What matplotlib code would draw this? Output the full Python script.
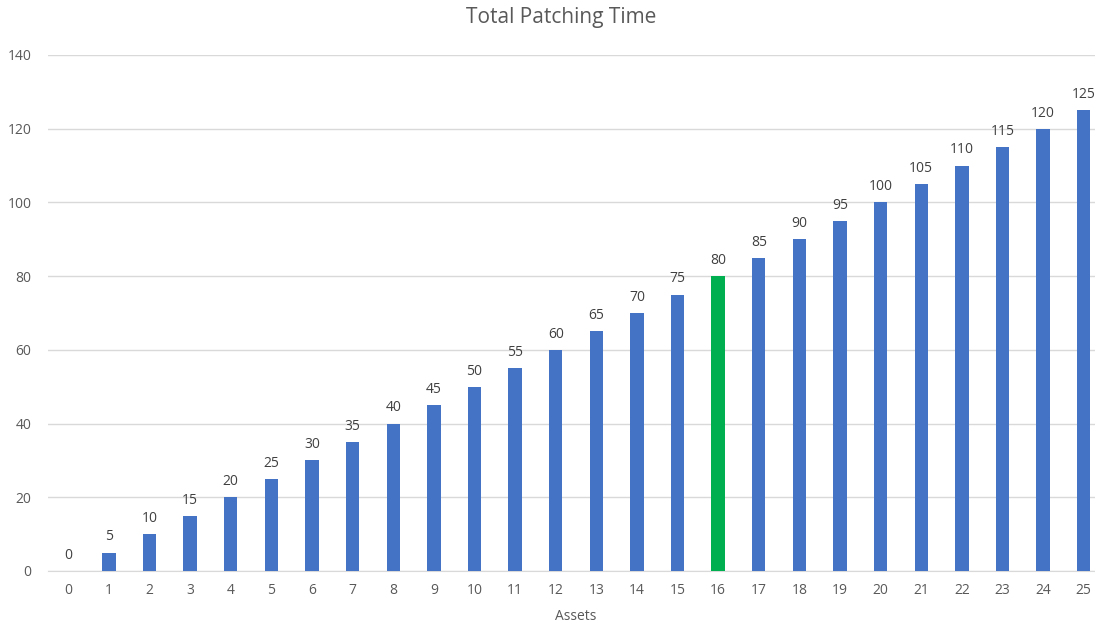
import matplotlib
matplotlib.use("Agg")
import matplotlib.pyplot as plt

categories = list(range(26))
values = [0, 5, 10, 15, 20, 25, 30, 35, 40, 45, 50, 55, 60, 65, 70, 75, 80, 85, 90, 95, 100, 105, 110, 115, 120, 125]
highlight = 16
title = "Total Patching Time"
xlabel = "Assets"

plt.rcParams['font.family'] = ['Open Sans', 'DejaVu Sans']
fig = plt.figure(figsize=(10.95, 6.27), dpi=100)
W, H = 1095, 627
left = 48 / W
right = 1104 / W
bottom = (H - 571) / H
top = (H - 55) / H
ax = fig.add_axes([left, bottom, right - left, top - bottom])

colors = ['#00B050' if c == highlight else '#4472C4' for c in categories]
ax.bar(categories, values, width=0.33, color=colors, zorder=3)
for c, v in zip(categories, values):
    ax.text(c, v + 2.2, str(v), ha='center', va='bottom', fontsize=10, color='#404040', zorder=4)

ax.set_xlim(-0.5, 25.5)
ax.set_ylim(0, 140)
ax.set_yticks(range(0, 141, 20))
ax.set_xticks(categories)
ax.set_xticklabels([str(c) for c in categories])
ax.grid(axis='y', color='#D9D9D9', linewidth=1, zorder=0)
for s in ['top', 'right', 'left']:
    ax.spines[s].set_visible(False)
ax.spines['bottom'].set_color('#D9D9D9')
ax.tick_params(axis='both', length=0, labelsize=10, colors='#595959')
ax.tick_params(axis='x', pad=9)
ax.tick_params(axis='y', pad=12)
fig.text(561 / W, 1 - 18 / H, title, ha='center', va='center', fontsize=15, color='#595959')
fig.text(576 / W, 1 - 617 / H, xlabel, ha='center', va='center', fontsize=10, color='#595959')

fig.savefig('out.png', dpi=100)
